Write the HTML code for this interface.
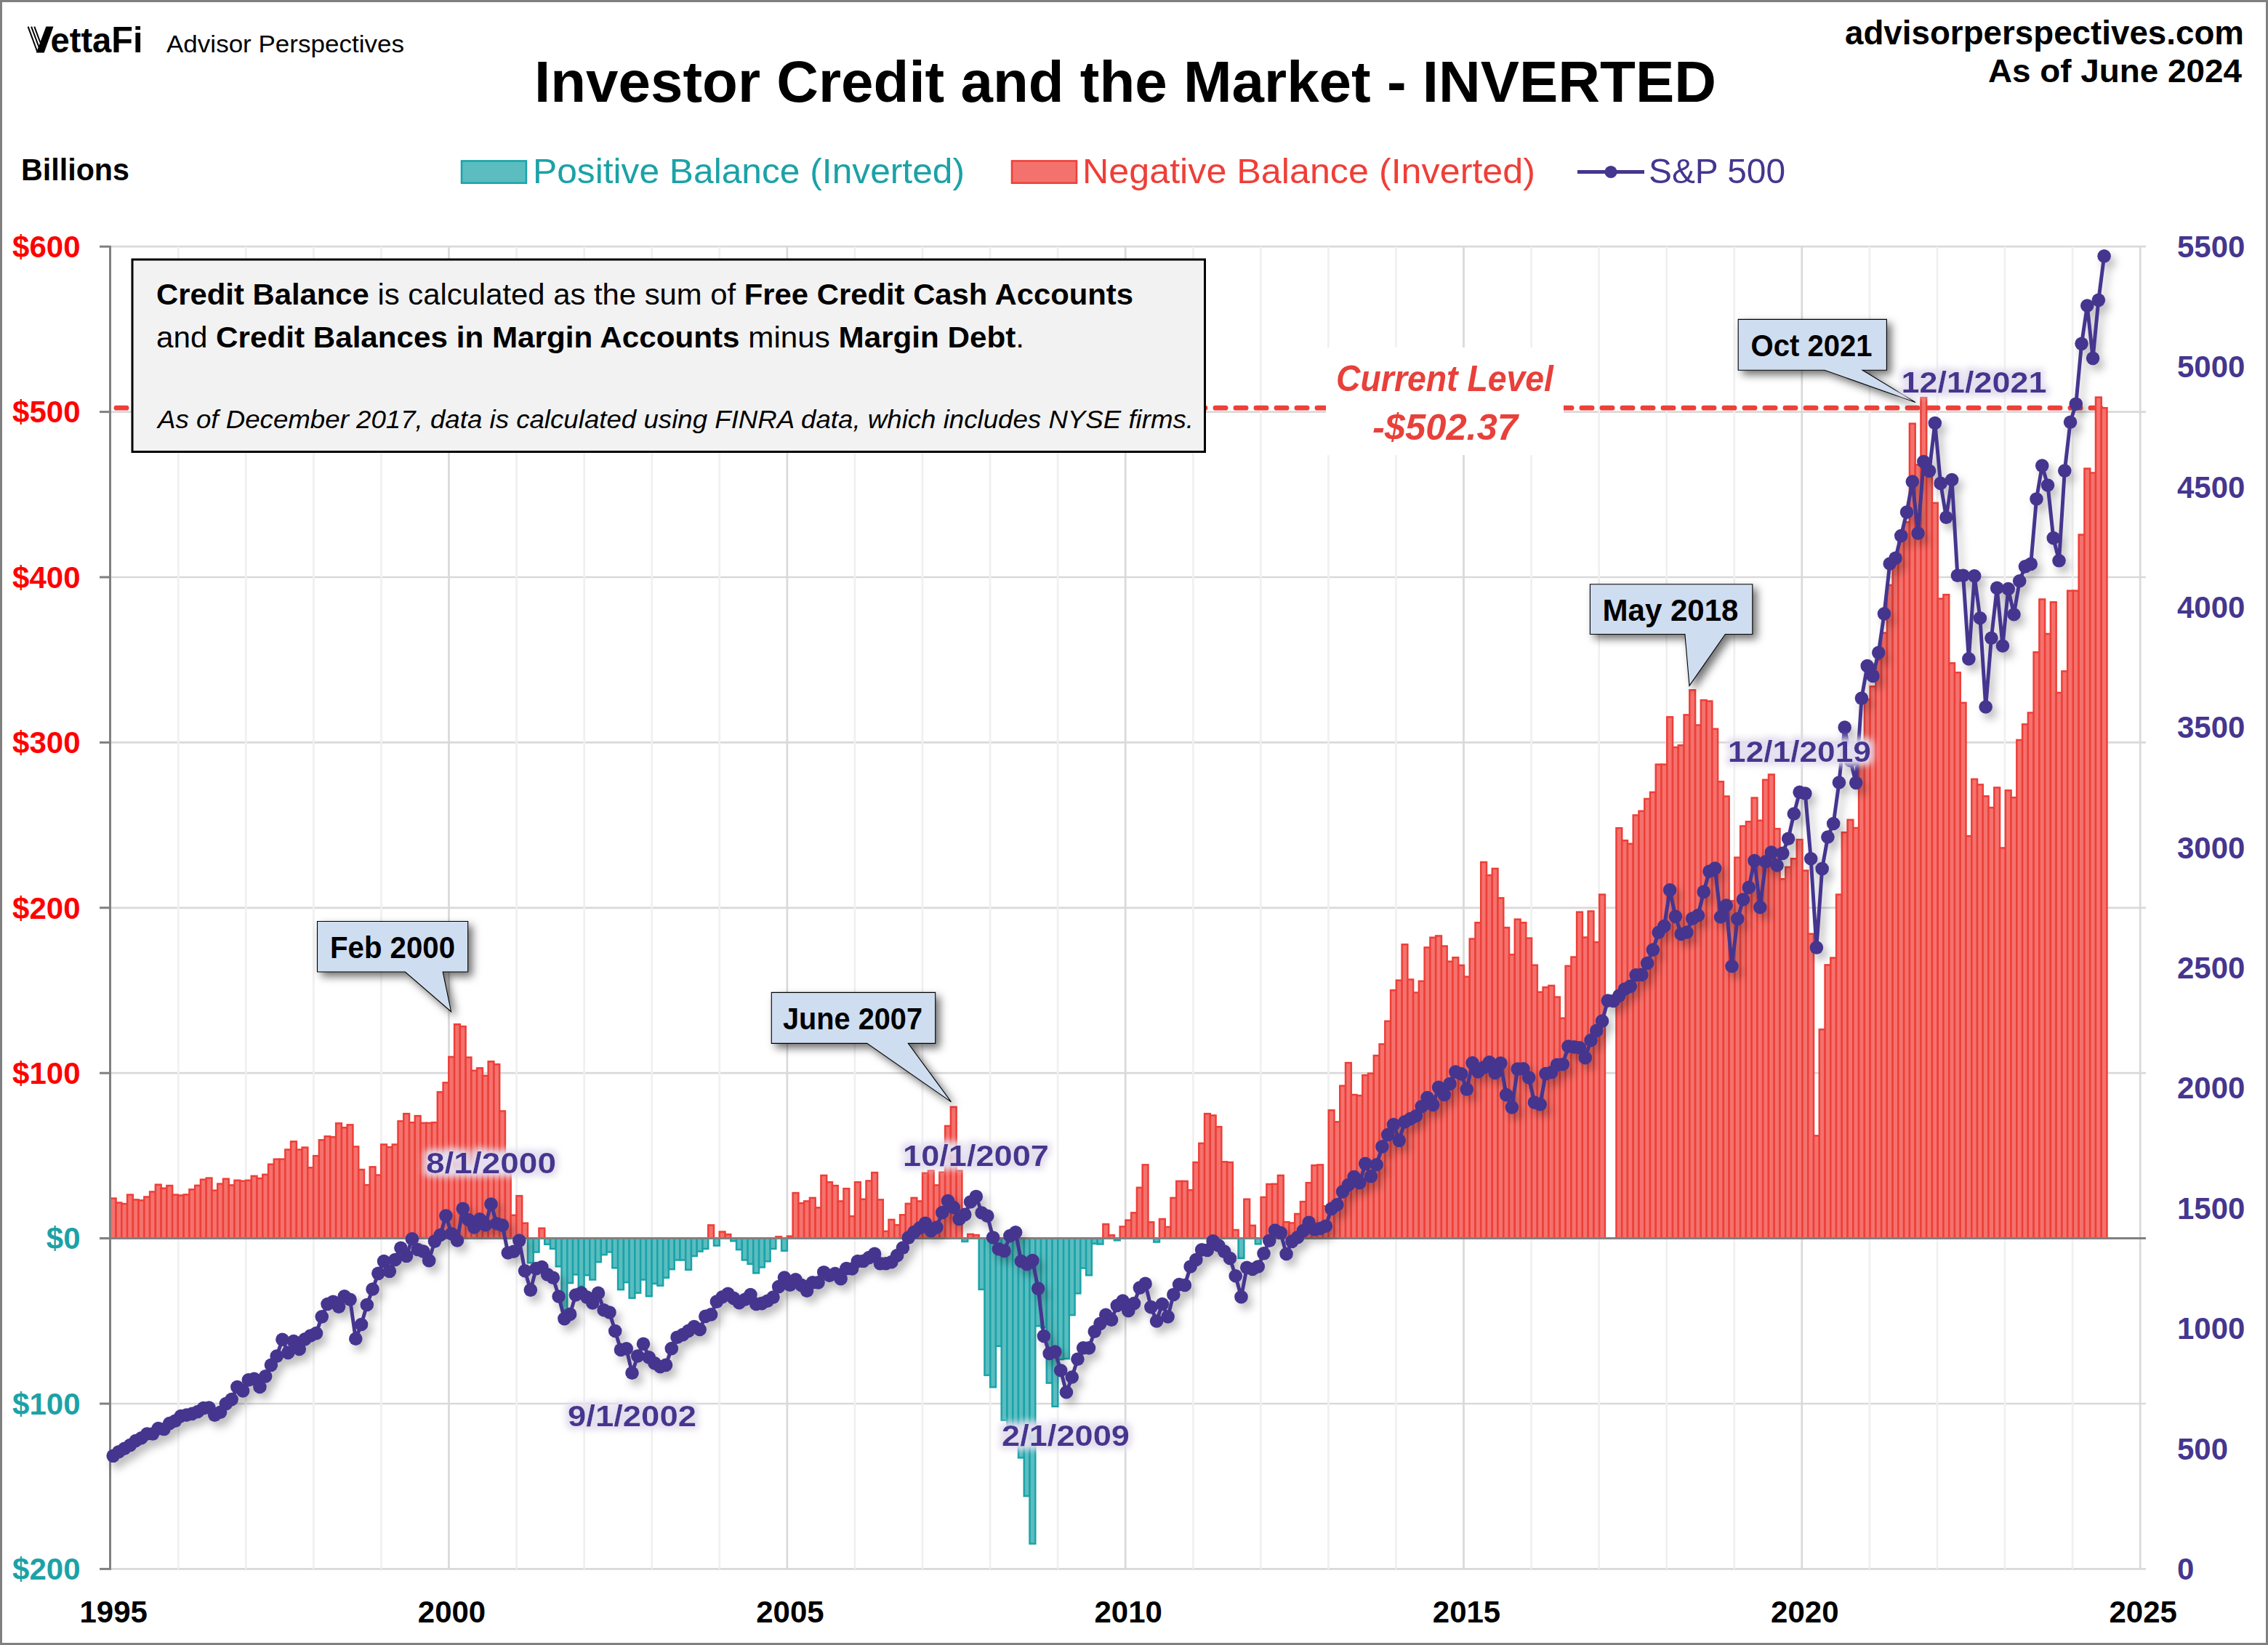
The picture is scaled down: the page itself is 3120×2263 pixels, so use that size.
<!DOCTYPE html><html><head><meta charset="utf-8"><style>html,body{margin:0;padding:0;background:#fff;}svg{display:block;}</style></head><body>
<svg width="3120" height="2263" viewBox="0 0 3120 2263" font-family='"Liberation Sans", sans-serif'>
<defs><filter id="lsh" x="-5%" y="-5%" width="110%" height="110%"><feGaussianBlur in="SourceAlpha" stdDeviation="6"/><feOffset dx="6" dy="8" result="b"/><feFlood flood-color="#000" flood-opacity="0.26"/><feComposite in2="b" operator="in"/><feMerge><feMergeNode/><feMergeNode in="SourceGraphic"/></feMerge></filter><filter id="csh" x="-20%" y="-20%" width="140%" height="140%"><feGaussianBlur in="SourceAlpha" stdDeviation="6"/><feOffset dx="6" dy="6" result="b"/><feFlood flood-color="#000" flood-opacity="0.55"/><feComposite in2="b" operator="in"/><feMerge><feMergeNode/><feMergeNode in="SourceGraphic"/></feMerge></filter><filter id="glow" x="-10%" y="-30%" width="120%" height="160%"><feMorphology in="SourceAlpha" operator="dilate" radius="5" result="d"/><feGaussianBlur in="d" stdDeviation="4.5" result="g"/><feFlood flood-color="#E4DEEE" flood-opacity="1"/><feComposite in2="g" operator="in"/><feMerge><feMergeNode/><feMergeNode in="SourceGraphic"/></feMerge></filter></defs>
<rect x="0" y="0" width="3120" height="2263" fill="#fff"/>
<line x1="151.8" y1="339.2" x2="2952.0" y2="339.2" stroke="#D9D9D9" stroke-width="2.7"/>
<line x1="151.8" y1="566.6" x2="2952.0" y2="566.6" stroke="#D9D9D9" stroke-width="2.7"/>
<line x1="151.8" y1="794.0" x2="2952.0" y2="794.0" stroke="#D9D9D9" stroke-width="2.7"/>
<line x1="151.8" y1="1021.4" x2="2952.0" y2="1021.4" stroke="#D9D9D9" stroke-width="2.7"/>
<line x1="151.8" y1="1248.8" x2="2952.0" y2="1248.8" stroke="#D9D9D9" stroke-width="2.7"/>
<line x1="151.8" y1="1476.2" x2="2952.0" y2="1476.2" stroke="#D9D9D9" stroke-width="2.7"/>
<line x1="151.8" y1="1931.0" x2="2952.0" y2="1931.0" stroke="#D9D9D9" stroke-width="2.7"/>
<line x1="151.8" y1="2158.4" x2="2952.0" y2="2158.4" stroke="#D9D9D9" stroke-width="2.7"/>
<line x1="245.3" y1="339.2" x2="245.3" y2="2158.4" stroke="#F0F0F0" stroke-width="2.7"/>
<line x1="338.3" y1="339.2" x2="338.3" y2="2158.4" stroke="#F0F0F0" stroke-width="2.7"/>
<line x1="431.4" y1="339.2" x2="431.4" y2="2158.4" stroke="#F0F0F0" stroke-width="2.7"/>
<line x1="524.5" y1="339.2" x2="524.5" y2="2158.4" stroke="#F0F0F0" stroke-width="2.7"/>
<line x1="617.5" y1="339.2" x2="617.5" y2="2158.4" stroke="#D9D9D9" stroke-width="2.7"/>
<line x1="710.6" y1="339.2" x2="710.6" y2="2158.4" stroke="#F0F0F0" stroke-width="2.7"/>
<line x1="803.7" y1="339.2" x2="803.7" y2="2158.4" stroke="#F0F0F0" stroke-width="2.7"/>
<line x1="896.7" y1="339.2" x2="896.7" y2="2158.4" stroke="#F0F0F0" stroke-width="2.7"/>
<line x1="989.8" y1="339.2" x2="989.8" y2="2158.4" stroke="#F0F0F0" stroke-width="2.7"/>
<line x1="1082.9" y1="339.2" x2="1082.9" y2="2158.4" stroke="#D9D9D9" stroke-width="2.7"/>
<line x1="1175.9" y1="339.2" x2="1175.9" y2="2158.4" stroke="#F0F0F0" stroke-width="2.7"/>
<line x1="1269.0" y1="339.2" x2="1269.0" y2="2158.4" stroke="#F0F0F0" stroke-width="2.7"/>
<line x1="1362.1" y1="339.2" x2="1362.1" y2="2158.4" stroke="#F0F0F0" stroke-width="2.7"/>
<line x1="1455.1" y1="339.2" x2="1455.1" y2="2158.4" stroke="#F0F0F0" stroke-width="2.7"/>
<line x1="1548.2" y1="339.2" x2="1548.2" y2="2158.4" stroke="#D9D9D9" stroke-width="2.7"/>
<line x1="1641.3" y1="339.2" x2="1641.3" y2="2158.4" stroke="#F0F0F0" stroke-width="2.7"/>
<line x1="1734.3" y1="339.2" x2="1734.3" y2="2158.4" stroke="#F0F0F0" stroke-width="2.7"/>
<line x1="1827.4" y1="339.2" x2="1827.4" y2="2158.4" stroke="#F0F0F0" stroke-width="2.7"/>
<line x1="1920.5" y1="339.2" x2="1920.5" y2="2158.4" stroke="#F0F0F0" stroke-width="2.7"/>
<line x1="2013.5" y1="339.2" x2="2013.5" y2="2158.4" stroke="#D9D9D9" stroke-width="2.7"/>
<line x1="2106.6" y1="339.2" x2="2106.6" y2="2158.4" stroke="#F0F0F0" stroke-width="2.7"/>
<line x1="2199.7" y1="339.2" x2="2199.7" y2="2158.4" stroke="#F0F0F0" stroke-width="2.7"/>
<line x1="2292.7" y1="339.2" x2="2292.7" y2="2158.4" stroke="#F0F0F0" stroke-width="2.7"/>
<line x1="2385.8" y1="339.2" x2="2385.8" y2="2158.4" stroke="#F0F0F0" stroke-width="2.7"/>
<line x1="2478.8" y1="339.2" x2="2478.8" y2="2158.4" stroke="#D9D9D9" stroke-width="2.7"/>
<line x1="2571.9" y1="339.2" x2="2571.9" y2="2158.4" stroke="#F0F0F0" stroke-width="2.7"/>
<line x1="2665.0" y1="339.2" x2="2665.0" y2="2158.4" stroke="#F0F0F0" stroke-width="2.7"/>
<line x1="2758.0" y1="339.2" x2="2758.0" y2="2158.4" stroke="#F0F0F0" stroke-width="2.7"/>
<line x1="2851.1" y1="339.2" x2="2851.1" y2="2158.4" stroke="#F0F0F0" stroke-width="2.7"/>
<line x1="2944.2" y1="339.2" x2="2944.2" y2="2158.4" stroke="#D9D9D9" stroke-width="2.7"/>
<line x1="159.9" y1="561.2" x2="2893.7" y2="561.2" stroke="#EE3F38" stroke-width="6.7" stroke-dasharray="14.2 13.8" stroke-linecap="round"/>
<g fill="#F4726D" stroke="#EE3F38" stroke-width="2.5"><rect x="151.80" y="1648.57" width="7.759" height="55.03"/><rect x="159.56" y="1654.48" width="7.759" height="49.12"/><rect x="167.32" y="1656.07" width="7.759" height="47.53"/><rect x="175.08" y="1643.57" width="7.759" height="60.03"/><rect x="182.84" y="1650.39" width="7.759" height="53.21"/><rect x="190.60" y="1651.30" width="7.759" height="52.30"/><rect x="198.35" y="1646.52" width="7.759" height="57.08"/><rect x="206.11" y="1639.47" width="7.759" height="64.13"/><rect x="213.87" y="1629.69" width="7.759" height="73.90"/><rect x="221.63" y="1634.70" width="7.759" height="68.90"/><rect x="229.39" y="1631.06" width="7.759" height="72.54"/><rect x="237.15" y="1643.57" width="7.759" height="60.03"/><rect x="244.91" y="1644.48" width="7.759" height="59.12"/><rect x="252.67" y="1643.34" width="7.759" height="60.26"/><rect x="260.43" y="1636.29" width="7.759" height="67.31"/><rect x="268.19" y="1630.83" width="7.759" height="72.77"/><rect x="275.94" y="1622.65" width="7.759" height="80.95"/><rect x="283.70" y="1620.60" width="7.759" height="83.00"/><rect x="291.46" y="1637.65" width="7.759" height="65.95"/><rect x="299.22" y="1628.56" width="7.759" height="75.04"/><rect x="306.98" y="1621.74" width="7.759" height="81.86"/><rect x="314.74" y="1630.38" width="7.759" height="73.22"/><rect x="322.50" y="1623.78" width="7.759" height="79.82"/><rect x="330.26" y="1624.69" width="7.759" height="78.91"/><rect x="338.02" y="1623.78" width="7.759" height="79.82"/><rect x="345.78" y="1617.87" width="7.759" height="85.73"/><rect x="353.53" y="1621.05" width="7.759" height="82.55"/><rect x="361.29" y="1615.82" width="7.759" height="87.78"/><rect x="369.05" y="1601.72" width="7.759" height="101.88"/><rect x="376.81" y="1594.68" width="7.759" height="108.92"/><rect x="384.57" y="1594.68" width="7.759" height="108.92"/><rect x="392.33" y="1581.49" width="7.759" height="122.11"/><rect x="400.09" y="1570.34" width="7.759" height="133.26"/><rect x="407.85" y="1581.49" width="7.759" height="122.11"/><rect x="415.61" y="1578.53" width="7.759" height="125.07"/><rect x="423.37" y="1606.27" width="7.759" height="97.33"/><rect x="431.12" y="1590.13" width="7.759" height="113.47"/><rect x="438.88" y="1568.30" width="7.759" height="135.30"/><rect x="446.64" y="1563.29" width="7.759" height="140.31"/><rect x="454.40" y="1564.20" width="7.759" height="139.40"/><rect x="462.16" y="1545.33" width="7.759" height="158.27"/><rect x="469.92" y="1551.24" width="7.759" height="152.36"/><rect x="477.68" y="1547.38" width="7.759" height="156.22"/><rect x="485.44" y="1577.39" width="7.759" height="126.21"/><rect x="493.20" y="1609.00" width="7.759" height="94.60"/><rect x="500.96" y="1630.15" width="7.759" height="73.45"/><rect x="508.71" y="1605.36" width="7.759" height="98.24"/><rect x="516.47" y="1616.51" width="7.759" height="87.09"/><rect x="524.23" y="1574.44" width="7.759" height="129.16"/><rect x="531.99" y="1578.08" width="7.759" height="125.52"/><rect x="539.75" y="1574.44" width="7.759" height="129.16"/><rect x="547.51" y="1542.37" width="7.759" height="161.23"/><rect x="555.27" y="1532.14" width="7.759" height="171.46"/><rect x="563.03" y="1544.19" width="7.759" height="159.41"/><rect x="570.79" y="1535.10" width="7.759" height="168.50"/><rect x="578.55" y="1544.87" width="7.759" height="158.73"/><rect x="586.30" y="1544.87" width="7.759" height="158.73"/><rect x="594.06" y="1544.19" width="7.759" height="159.41"/><rect x="601.82" y="1502.35" width="7.759" height="201.25"/><rect x="609.58" y="1489.39" width="7.759" height="214.21"/><rect x="617.34" y="1453.91" width="7.759" height="249.69"/><rect x="625.10" y="1409.12" width="7.759" height="294.48"/><rect x="632.86" y="1412.07" width="7.759" height="291.53"/><rect x="640.62" y="1454.60" width="7.759" height="249.00"/><rect x="648.38" y="1472.79" width="7.759" height="230.81"/><rect x="656.13" y="1469.38" width="7.759" height="234.22"/><rect x="663.89" y="1479.84" width="7.759" height="223.76"/><rect x="671.65" y="1460.28" width="7.759" height="243.32"/><rect x="679.41" y="1464.15" width="7.759" height="239.45"/><rect x="687.17" y="1528.50" width="7.759" height="175.10"/><rect x="694.93" y="1589.90" width="7.759" height="113.70"/><rect x="702.69" y="1671.76" width="7.759" height="31.84"/><rect x="710.45" y="1645.16" width="7.759" height="58.44"/><rect x="718.21" y="1682.68" width="7.759" height="20.92"/><rect x="741.48" y="1689.73" width="7.759" height="13.87"/><rect x="974.25" y="1685.41" width="7.759" height="18.19"/><rect x="989.77" y="1694.50" width="7.759" height="9.10"/><rect x="997.53" y="1698.14" width="7.759" height="5.46"/><rect x="1067.36" y="1701.33" width="7.759" height="2.27"/><rect x="1082.88" y="1700.64" width="7.759" height="2.96"/><rect x="1090.64" y="1641.06" width="7.759" height="62.54"/><rect x="1098.40" y="1655.16" width="7.759" height="48.44"/><rect x="1106.16" y="1652.43" width="7.759" height="51.16"/><rect x="1113.92" y="1647.89" width="7.759" height="55.71"/><rect x="1121.67" y="1661.30" width="7.759" height="42.30"/><rect x="1129.43" y="1616.96" width="7.759" height="86.64"/><rect x="1137.19" y="1626.28" width="7.759" height="77.32"/><rect x="1144.95" y="1631.06" width="7.759" height="72.54"/><rect x="1152.71" y="1652.43" width="7.759" height="51.16"/><rect x="1160.47" y="1635.15" width="7.759" height="68.45"/><rect x="1168.23" y="1673.13" width="7.759" height="30.47"/><rect x="1175.99" y="1626.28" width="7.759" height="77.32"/><rect x="1183.75" y="1649.71" width="7.759" height="53.89"/><rect x="1191.51" y="1624.46" width="7.759" height="79.14"/><rect x="1199.27" y="1613.09" width="7.759" height="90.51"/><rect x="1207.02" y="1650.39" width="7.759" height="53.21"/><rect x="1214.78" y="1693.82" width="7.759" height="9.78"/><rect x="1222.54" y="1677.90" width="7.759" height="25.70"/><rect x="1230.30" y="1685.18" width="7.759" height="18.42"/><rect x="1238.06" y="1671.31" width="7.759" height="32.29"/><rect x="1245.82" y="1655.85" width="7.759" height="47.75"/><rect x="1253.58" y="1647.89" width="7.759" height="55.71"/><rect x="1261.34" y="1652.43" width="7.759" height="51.16"/><rect x="1269.10" y="1613.78" width="7.759" height="89.82"/><rect x="1276.86" y="1610.37" width="7.759" height="93.23"/><rect x="1284.61" y="1630.38" width="7.759" height="73.22"/><rect x="1292.37" y="1612.64" width="7.759" height="90.96"/><rect x="1300.13" y="1548.97" width="7.759" height="154.63"/><rect x="1307.89" y="1522.82" width="7.759" height="180.78"/><rect x="1315.65" y="1610.37" width="7.759" height="93.23"/><rect x="1331.17" y="1697.91" width="7.759" height="5.68"/><rect x="1338.93" y="1699.05" width="7.759" height="4.55"/><rect x="1517.38" y="1684.04" width="7.759" height="19.56"/><rect x="1525.14" y="1699.28" width="7.759" height="4.32"/><rect x="1540.66" y="1687.45" width="7.759" height="16.15"/><rect x="1548.42" y="1678.59" width="7.759" height="25.01"/><rect x="1556.18" y="1668.35" width="7.759" height="35.25"/><rect x="1563.94" y="1633.79" width="7.759" height="69.81"/><rect x="1571.70" y="1602.41" width="7.759" height="101.19"/><rect x="1579.46" y="1681.31" width="7.759" height="22.29"/><rect x="1594.97" y="1676.99" width="7.759" height="26.61"/><rect x="1602.73" y="1687.91" width="7.759" height="15.69"/><rect x="1610.49" y="1647.89" width="7.759" height="55.71"/><rect x="1618.25" y="1624.92" width="7.759" height="78.68"/><rect x="1626.01" y="1624.92" width="7.759" height="78.68"/><rect x="1633.77" y="1637.20" width="7.759" height="66.40"/><rect x="1641.53" y="1599.00" width="7.759" height="104.60"/><rect x="1649.29" y="1572.84" width="7.759" height="130.76"/><rect x="1657.05" y="1532.14" width="7.759" height="171.46"/><rect x="1664.81" y="1534.41" width="7.759" height="169.19"/><rect x="1672.56" y="1550.11" width="7.759" height="153.49"/><rect x="1680.32" y="1598.31" width="7.759" height="105.29"/><rect x="1688.08" y="1599.00" width="7.759" height="104.60"/><rect x="1695.84" y="1692.00" width="7.759" height="11.60"/><rect x="1711.36" y="1649.71" width="7.759" height="53.89"/><rect x="1719.12" y="1685.86" width="7.759" height="17.74"/><rect x="1734.64" y="1646.98" width="7.759" height="56.62"/><rect x="1742.39" y="1629.01" width="7.759" height="74.59"/><rect x="1750.15" y="1628.79" width="7.759" height="74.81"/><rect x="1757.91" y="1616.96" width="7.759" height="86.64"/><rect x="1765.67" y="1681.09" width="7.759" height="22.51"/><rect x="1773.43" y="1682.45" width="7.759" height="21.15"/><rect x="1781.19" y="1669.94" width="7.759" height="33.66"/><rect x="1788.95" y="1653.12" width="7.759" height="50.48"/><rect x="1796.71" y="1627.19" width="7.759" height="76.41"/><rect x="1804.47" y="1603.09" width="7.759" height="100.51"/><rect x="1812.23" y="1602.41" width="7.759" height="101.19"/><rect x="1819.99" y="1659.26" width="7.759" height="44.34"/><rect x="1827.74" y="1527.36" width="7.759" height="176.24"/><rect x="1835.50" y="1543.28" width="7.759" height="160.32"/><rect x="1843.26" y="1493.71" width="7.759" height="209.89"/><rect x="1851.02" y="1462.10" width="7.759" height="241.50"/><rect x="1858.78" y="1505.99" width="7.759" height="197.61"/><rect x="1866.54" y="1507.13" width="7.759" height="196.47"/><rect x="1874.30" y="1479.16" width="7.759" height="224.44"/><rect x="1882.06" y="1476.65" width="7.759" height="226.95"/><rect x="1889.82" y="1452.10" width="7.759" height="251.50"/><rect x="1897.58" y="1436.40" width="7.759" height="267.19"/><rect x="1905.33" y="1404.80" width="7.759" height="298.80"/><rect x="1913.09" y="1362.27" width="7.759" height="341.33"/><rect x="1920.85" y="1348.63" width="7.759" height="354.97"/><rect x="1928.61" y="1299.28" width="7.759" height="404.32"/><rect x="1936.37" y="1347.49" width="7.759" height="356.11"/><rect x="1944.13" y="1365.46" width="7.759" height="338.14"/><rect x="1951.89" y="1349.77" width="7.759" height="353.83"/><rect x="1959.65" y="1303.38" width="7.759" height="400.22"/><rect x="1967.41" y="1289.73" width="7.759" height="413.87"/><rect x="1975.16" y="1287.46" width="7.759" height="416.14"/><rect x="1982.92" y="1301.56" width="7.759" height="402.04"/><rect x="1990.68" y="1322.70" width="7.759" height="380.89"/><rect x="1998.44" y="1317.25" width="7.759" height="386.35"/><rect x="2006.20" y="1327.94" width="7.759" height="375.66"/><rect x="2013.96" y="1343.63" width="7.759" height="359.97"/><rect x="2021.72" y="1291.55" width="7.759" height="412.05"/><rect x="2029.48" y="1269.27" width="7.759" height="434.33"/><rect x="2037.24" y="1186.04" width="7.759" height="517.56"/><rect x="2045.00" y="1204.00" width="7.759" height="499.60"/><rect x="2052.76" y="1194.91" width="7.759" height="508.69"/><rect x="2060.51" y="1235.38" width="7.759" height="468.22"/><rect x="2068.27" y="1276.09" width="7.759" height="427.51"/><rect x="2076.03" y="1313.15" width="7.759" height="390.45"/><rect x="2083.79" y="1264.72" width="7.759" height="438.88"/><rect x="2091.55" y="1269.27" width="7.759" height="434.33"/><rect x="2099.31" y="1290.64" width="7.759" height="412.96"/><rect x="2107.07" y="1327.71" width="7.759" height="375.89"/><rect x="2114.83" y="1364.77" width="7.759" height="338.83"/><rect x="2122.59" y="1358.18" width="7.759" height="345.42"/><rect x="2130.35" y="1355.91" width="7.759" height="347.69"/><rect x="2138.10" y="1371.60" width="7.759" height="332.00"/><rect x="2145.86" y="1400.70" width="7.759" height="302.90"/><rect x="2153.62" y="1328.84" width="7.759" height="374.76"/><rect x="2161.38" y="1316.57" width="7.759" height="387.03"/><rect x="2169.14" y="1254.71" width="7.759" height="448.89"/><rect x="2176.90" y="1289.50" width="7.759" height="414.10"/><rect x="2184.66" y="1253.58" width="7.759" height="450.02"/><rect x="2192.42" y="1296.10" width="7.759" height="407.50"/><rect x="2200.18" y="1230.61" width="7.759" height="472.99"/><rect x="2223.45" y="1139.19" width="7.759" height="564.41"/><rect x="2231.21" y="1156.25" width="7.759" height="547.35"/><rect x="2238.97" y="1160.80" width="7.759" height="542.80"/><rect x="2246.73" y="1121.46" width="7.759" height="582.14"/><rect x="2254.49" y="1115.77" width="7.759" height="587.83"/><rect x="2262.25" y="1098.94" width="7.759" height="604.66"/><rect x="2270.01" y="1089.85" width="7.759" height="613.75"/><rect x="2277.77" y="1051.64" width="7.759" height="651.96"/><rect x="2285.53" y="1051.64" width="7.759" height="651.96"/><rect x="2293.28" y="986.38" width="7.759" height="717.22"/><rect x="2301.04" y="1027.99" width="7.759" height="675.61"/><rect x="2308.80" y="1025.27" width="7.759" height="678.33"/><rect x="2316.56" y="983.42" width="7.759" height="720.18"/><rect x="2324.32" y="949.31" width="7.759" height="754.29"/><rect x="2332.08" y="997.52" width="7.759" height="706.08"/><rect x="2339.84" y="963.19" width="7.759" height="740.41"/><rect x="2347.60" y="964.55" width="7.759" height="739.05"/><rect x="2355.36" y="1002.75" width="7.759" height="700.85"/><rect x="2363.12" y="1075.29" width="7.759" height="628.31"/><rect x="2370.87" y="1095.53" width="7.759" height="608.07"/><rect x="2378.63" y="1239.48" width="7.759" height="464.12"/><rect x="2386.39" y="1179.67" width="7.759" height="523.93"/><rect x="2394.15" y="1136.46" width="7.759" height="567.14"/><rect x="2401.91" y="1130.32" width="7.759" height="573.28"/><rect x="2409.67" y="1097.58" width="7.759" height="606.02"/><rect x="2417.43" y="1128.73" width="7.759" height="574.87"/><rect x="2425.19" y="1072.79" width="7.759" height="630.81"/><rect x="2432.95" y="1065.52" width="7.759" height="638.08"/><rect x="2440.71" y="1140.10" width="7.759" height="563.50"/><rect x="2448.46" y="1209.23" width="7.759" height="494.37"/><rect x="2456.22" y="1192.86" width="7.759" height="510.74"/><rect x="2463.98" y="1181.26" width="7.759" height="522.34"/><rect x="2471.74" y="1155.11" width="7.759" height="548.49"/><rect x="2479.50" y="1197.63" width="7.759" height="505.97"/><rect x="2487.26" y="1284.73" width="7.759" height="418.87"/><rect x="2495.02" y="1562.38" width="7.759" height="141.22"/><rect x="2502.78" y="1416.17" width="7.759" height="287.43"/><rect x="2510.54" y="1327.48" width="7.759" height="376.12"/><rect x="2518.30" y="1317.70" width="7.759" height="385.90"/><rect x="2526.05" y="1230.61" width="7.759" height="472.99"/><rect x="2533.81" y="1145.11" width="7.759" height="558.49"/><rect x="2541.57" y="1127.82" width="7.759" height="575.78"/><rect x="2549.33" y="1138.97" width="7.759" height="564.63"/><rect x="2557.09" y="1027.09" width="7.759" height="676.51"/><rect x="2564.85" y="962.28" width="7.759" height="741.32"/><rect x="2572.61" y="944.31" width="7.759" height="759.29"/><rect x="2580.37" y="907.70" width="7.759" height="795.90"/><rect x="2588.13" y="870.63" width="7.759" height="832.97"/><rect x="2595.89" y="804.92" width="7.759" height="898.68"/><rect x="2603.64" y="765.35" width="7.759" height="938.25"/><rect x="2611.40" y="737.15" width="7.759" height="966.45"/><rect x="2619.16" y="718.28" width="7.759" height="985.32"/><rect x="2626.92" y="582.75" width="7.759" height="1120.85"/><rect x="2634.68" y="639.37" width="7.759" height="1064.23"/><rect x="2642.44" y="547.04" width="7.759" height="1156.56"/><rect x="2650.20" y="646.64" width="7.759" height="1056.96"/><rect x="2657.96" y="691.90" width="7.759" height="1011.70"/><rect x="2665.72" y="823.56" width="7.759" height="880.04"/><rect x="2673.48" y="818.10" width="7.759" height="885.50"/><rect x="2681.23" y="912.25" width="7.759" height="791.35"/><rect x="2688.99" y="925.21" width="7.759" height="778.39"/><rect x="2696.75" y="966.82" width="7.759" height="736.78"/><rect x="2704.51" y="1150.11" width="7.759" height="553.49"/><rect x="2712.27" y="1071.88" width="7.759" height="631.72"/><rect x="2720.03" y="1079.39" width="7.759" height="624.21"/><rect x="2727.79" y="1095.30" width="7.759" height="608.30"/><rect x="2735.55" y="1111.00" width="7.759" height="592.60"/><rect x="2743.31" y="1083.48" width="7.759" height="620.12"/><rect x="2751.07" y="1166.48" width="7.759" height="537.12"/><rect x="2758.82" y="1087.35" width="7.759" height="616.25"/><rect x="2766.58" y="1097.12" width="7.759" height="606.48"/><rect x="2774.34" y="1017.99" width="7.759" height="685.61"/><rect x="2782.10" y="996.39" width="7.759" height="707.21"/><rect x="2789.86" y="980.47" width="7.759" height="723.13"/><rect x="2797.62" y="897.24" width="7.759" height="806.36"/><rect x="2805.38" y="824.47" width="7.759" height="879.13"/><rect x="2813.14" y="872.00" width="7.759" height="831.60"/><rect x="2820.90" y="828.34" width="7.759" height="875.26"/><rect x="2828.66" y="952.95" width="7.759" height="750.65"/><rect x="2836.41" y="923.39" width="7.759" height="780.21"/><rect x="2844.17" y="812.65" width="7.759" height="890.95"/><rect x="2851.93" y="812.65" width="7.759" height="890.95"/><rect x="2859.69" y="735.56" width="7.759" height="968.04"/><rect x="2867.45" y="644.60" width="7.759" height="1059.00"/><rect x="2875.21" y="650.51" width="7.759" height="1053.09"/><rect x="2882.97" y="546.59" width="7.759" height="1157.01"/><rect x="2890.73" y="561.21" width="7.759" height="1142.39"/></g>
<g fill="#5BBDC0" stroke="#1AA3A8" stroke-width="2.5"><rect x="725.97" y="1703.60" width="7.759" height="33.66"/><rect x="733.73" y="1703.60" width="7.759" height="18.87"/><rect x="749.24" y="1703.60" width="7.759" height="8.19"/><rect x="757.00" y="1703.60" width="7.759" height="14.33"/><rect x="764.76" y="1703.60" width="7.759" height="38.66"/><rect x="772.52" y="1703.60" width="7.759" height="98.46"/><rect x="780.28" y="1703.60" width="7.759" height="61.40"/><rect x="788.04" y="1703.60" width="7.759" height="49.80"/><rect x="795.80" y="1703.60" width="7.759" height="65.95"/><rect x="803.56" y="1703.60" width="7.759" height="50.71"/><rect x="811.32" y="1703.60" width="7.759" height="56.85"/><rect x="819.07" y="1703.60" width="7.759" height="32.52"/><rect x="826.83" y="1703.60" width="7.759" height="22.51"/><rect x="834.59" y="1703.60" width="7.759" height="18.87"/><rect x="842.35" y="1703.60" width="7.759" height="40.70"/><rect x="850.11" y="1703.60" width="7.759" height="70.49"/><rect x="857.87" y="1703.60" width="7.759" height="60.49"/><rect x="865.63" y="1703.60" width="7.759" height="82.09"/><rect x="873.39" y="1703.60" width="7.759" height="75.04"/><rect x="881.15" y="1703.60" width="7.759" height="56.85"/><rect x="888.90" y="1703.60" width="7.759" height="79.59"/><rect x="896.66" y="1703.60" width="7.759" height="62.31"/><rect x="904.42" y="1703.60" width="7.759" height="65.04"/><rect x="912.18" y="1703.60" width="7.759" height="54.12"/><rect x="919.94" y="1703.60" width="7.759" height="42.52"/><rect x="927.70" y="1703.60" width="7.759" height="29.79"/><rect x="935.46" y="1703.60" width="7.759" height="29.79"/><rect x="943.22" y="1703.60" width="7.759" height="43.21"/><rect x="950.98" y="1703.60" width="7.759" height="24.33"/><rect x="958.74" y="1703.60" width="7.759" height="17.96"/><rect x="966.50" y="1703.60" width="7.759" height="14.33"/><rect x="982.01" y="1703.60" width="7.759" height="10.01"/><rect x="1005.29" y="1703.60" width="7.759" height="3.64"/><rect x="1013.05" y="1703.60" width="7.759" height="15.46"/><rect x="1020.81" y="1703.60" width="7.759" height="29.79"/><rect x="1028.57" y="1703.60" width="7.759" height="35.25"/><rect x="1036.33" y="1703.60" width="7.759" height="47.75"/><rect x="1044.09" y="1703.60" width="7.759" height="39.80"/><rect x="1051.84" y="1703.60" width="7.759" height="31.61"/><rect x="1059.60" y="1703.60" width="7.759" height="14.33"/><rect x="1075.12" y="1703.60" width="7.759" height="17.06"/><rect x="1323.41" y="1703.60" width="7.759" height="4.32"/><rect x="1346.69" y="1703.60" width="7.759" height="70.27"/><rect x="1354.44" y="1703.60" width="7.759" height="188.29"/><rect x="1362.20" y="1703.60" width="7.759" height="204.66"/><rect x="1369.96" y="1703.60" width="7.759" height="148.26"/><rect x="1377.72" y="1703.60" width="7.759" height="250.14"/><rect x="1385.48" y="1703.60" width="7.759" height="256.96"/><rect x="1393.24" y="1703.60" width="7.759" height="266.06"/><rect x="1401.00" y="1703.60" width="7.759" height="301.76"/><rect x="1408.76" y="1703.60" width="7.759" height="354.52"/><rect x="1416.52" y="1703.60" width="7.759" height="420.01"/><rect x="1424.28" y="1703.60" width="7.759" height="120.52"/><rect x="1432.04" y="1703.60" width="7.759" height="122.80"/><rect x="1439.79" y="1703.60" width="7.759" height="198.97"/><rect x="1447.55" y="1703.60" width="7.759" height="231.27"/><rect x="1455.31" y="1703.60" width="7.759" height="166.46"/><rect x="1463.07" y="1703.60" width="7.759" height="165.55"/><rect x="1470.83" y="1703.60" width="7.759" height="105.51"/><rect x="1478.59" y="1703.60" width="7.759" height="75.72"/><rect x="1486.35" y="1703.60" width="7.759" height="40.93"/><rect x="1494.11" y="1703.60" width="7.759" height="50.71"/><rect x="1501.87" y="1703.60" width="7.759" height="7.28"/><rect x="1509.62" y="1703.60" width="7.759" height="7.96"/><rect x="1532.90" y="1703.60" width="7.759" height="2.73"/><rect x="1587.21" y="1703.60" width="7.759" height="5.00"/><rect x="1703.60" y="1703.60" width="7.759" height="27.29"/><rect x="1726.88" y="1703.60" width="7.759" height="7.73"/></g>
<line x1="137" y1="1703.6" x2="2952.0" y2="1703.6" stroke="#808080" stroke-width="3"/>
<line x1="151.5" y1="337.9" x2="151.5" y2="2159.7000000000003" stroke="#808080" stroke-width="3"/>
<line x1="137" y1="339.2" x2="151.5" y2="339.2" stroke="#808080" stroke-width="3"/>
<line x1="137" y1="566.6" x2="151.5" y2="566.6" stroke="#808080" stroke-width="3"/>
<line x1="137" y1="794.0" x2="151.5" y2="794.0" stroke="#808080" stroke-width="3"/>
<line x1="137" y1="1021.4" x2="151.5" y2="1021.4" stroke="#808080" stroke-width="3"/>
<line x1="137" y1="1248.8" x2="151.5" y2="1248.8" stroke="#808080" stroke-width="3"/>
<line x1="137" y1="1476.2" x2="151.5" y2="1476.2" stroke="#808080" stroke-width="3"/>
<line x1="137" y1="1703.6" x2="151.5" y2="1703.6" stroke="#808080" stroke-width="3"/>
<line x1="137" y1="1931.0" x2="151.5" y2="1931.0" stroke="#808080" stroke-width="3"/>
<line x1="137" y1="2158.4" x2="151.5" y2="2158.4" stroke="#808080" stroke-width="3"/>
<g filter="url(#lsh)"><polyline points="155.68,2002.81 163.44,1997.20 171.20,1992.79 178.96,1988.16 186.72,1981.98 194.47,1978.22 202.23,1972.50 209.99,1972.56 217.75,1965.11 225.51,1966.07 233.27,1958.17 241.03,1954.68 248.79,1948.04 256.55,1946.58 264.31,1944.90 272.06,1942.03 279.82,1937.09 287.58,1936.59 295.34,1946.74 303.10,1942.75 310.86,1931.07 318.62,1925.13 326.38,1908.02 334.14,1913.40 341.90,1898.38 349.65,1896.84 357.41,1907.98 365.17,1893.36 372.93,1877.83 380.69,1865.64 388.45,1842.76 396.21,1860.90 403.97,1845.09 411.73,1855.89 419.49,1842.40 427.24,1837.43 435.00,1834.17 442.76,1811.33 450.52,1794.00 458.28,1790.69 466.04,1797.61 473.80,1783.38 481.56,1787.74 489.32,1841.78 497.08,1822.02 504.83,1795.01 512.59,1773.53 520.35,1751.83 528.11,1735.16 535.87,1748.82 543.63,1732.93 551.39,1716.79 559.15,1727.82 566.91,1704.38 574.67,1718.93 582.42,1721.67 590.18,1734.14 597.94,1707.61 605.70,1699.02 613.46,1672.45 621.22,1697.18 628.98,1706.46 636.74,1662.74 644.50,1678.01 652.26,1688.54 660.01,1677.29 667.77,1685.15 675.53,1656.43 683.29,1683.27 691.05,1685.63 698.81,1723.48 706.57,1721.72 714.33,1706.59 722.09,1748.29 729.85,1774.62 737.60,1745.14 745.36,1743.04 753.12,1753.42 760.88,1757.79 768.64,1783.47 776.40,1814.11 784.16,1807.88 791.92,1781.53 799.68,1778.67 807.44,1784.59 815.19,1792.35 822.95,1778.90 830.71,1802.21 838.47,1805.44 846.23,1831.02 853.99,1856.88 861.75,1855.41 869.51,1888.75 877.27,1865.43 885.03,1848.72 892.78,1867.40 900.54,1875.38 908.30,1880.19 916.06,1877.86 923.82,1855.13 931.58,1839.69 939.34,1836.08 947.10,1830.85 954.86,1825.00 962.62,1828.98 970.37,1810.88 978.13,1808.40 985.89,1790.63 993.65,1784.28 1001.41,1779.71 1009.17,1785.91 1016.93,1792.16 1024.69,1787.74 1032.45,1781.07 1040.21,1794.01 1047.96,1793.17 1055.72,1789.75 1063.48,1784.59 1071.24,1770.16 1079.00,1757.56 1086.76,1767.69 1094.52,1760.31 1102.28,1767.92 1110.04,1775.77 1117.80,1764.31 1125.55,1764.37 1133.31,1750.19 1141.07,1754.78 1148.83,1751.97 1156.59,1759.18 1164.35,1745.13 1172.11,1745.53 1179.87,1735.01 1187.63,1734.82 1195.39,1730.12 1203.14,1724.92 1210.90,1738.32 1218.66,1738.28 1226.42,1736.14 1234.18,1727.16 1241.94,1716.57 1249.70,1702.65 1257.46,1695.14 1265.22,1689.30 1272.98,1682.70 1280.73,1693.09 1288.49,1688.45 1296.25,1668.11 1304.01,1652.15 1311.77,1661.17 1319.53,1677.07 1327.29,1670.88 1335.05,1653.43 1342.81,1645.94 1350.57,1668.51 1358.32,1672.74 1366.08,1702.44 1373.84,1718.29 1381.60,1720.92 1389.36,1700.12 1397.12,1695.22 1404.88,1735.04 1412.64,1739.21 1420.40,1734.10 1428.16,1772.63 1435.91,1837.99 1443.67,1861.97 1451.43,1859.65 1459.19,1885.24 1466.95,1915.27 1474.71,1894.50 1482.47,1869.72 1490.23,1854.39 1497.99,1854.33 1505.75,1831.79 1513.50,1820.83 1521.26,1808.77 1529.02,1815.68 1536.78,1796.02 1544.54,1789.58 1552.30,1803.22 1560.06,1793.09 1567.82,1771.61 1575.58,1765.90 1583.34,1798.08 1591.09,1817.49 1598.85,1794.05 1606.61,1811.33 1614.37,1780.95 1622.13,1767.04 1629.89,1767.93 1637.65,1742.44 1645.41,1733.02 1653.17,1719.42 1660.93,1719.88 1668.68,1707.39 1676.44,1713.48 1684.20,1721.60 1691.96,1730.98 1699.72,1755.25 1707.48,1784.18 1715.24,1743.87 1723.00,1745.97 1730.76,1742.45 1738.52,1724.32 1746.27,1706.70 1754.03,1692.55 1761.79,1696.04 1769.55,1725.01 1777.31,1707.87 1785.07,1702.19 1792.83,1693.17 1800.59,1681.90 1808.35,1691.33 1816.11,1690.00 1823.86,1686.69 1831.62,1662.90 1839.38,1657.42 1847.14,1639.39 1854.90,1630.00 1862.66,1619.03 1870.42,1627.12 1878.18,1600.84 1885.94,1618.30 1893.70,1602.23 1901.45,1577.42 1909.21,1561.13 1916.97,1547.05 1924.73,1568.81 1932.49,1543.39 1940.25,1539.12 1948.01,1535.28 1955.77,1522.18 1963.53,1510.05 1971.29,1519.83 1979.04,1495.79 1986.80,1506.07 1994.56,1490.93 2002.32,1474.55 2010.08,1477.42 2017.84,1498.56 2025.60,1462.34 2033.36,1474.45 2041.12,1468.62 2048.88,1461.38 2056.63,1476.03 2064.39,1462.55 2072.15,1506.10 2079.91,1523.35 2087.67,1470.65 2095.43,1470.30 2103.19,1482.37 2110.95,1516.67 2118.71,1519.31 2126.47,1477.14 2134.22,1475.30 2141.98,1464.83 2149.74,1464.20 2157.50,1439.48 2165.26,1440.36 2173.02,1441.24 2180.78,1455.18 2188.54,1431.14 2196.30,1417.91 2204.06,1404.66 2211.81,1376.63 2219.57,1376.93 2227.33,1369.83 2235.09,1360.70 2242.85,1356.86 2250.61,1341.35 2258.37,1340.90 2266.13,1325.12 2273.89,1306.63 2281.65,1282.71 2289.40,1274.10 2297.16,1224.42 2304.92,1260.80 2312.68,1284.93 2320.44,1282.56 2328.20,1263.63 2335.96,1259.30 2343.72,1226.91 2351.48,1198.72 2359.24,1194.60 2366.99,1261.49 2374.75,1245.47 2382.51,1329.26 2390.27,1264.02 2398.03,1237.43 2405.79,1220.92 2413.55,1184.07 2421.31,1248.16 2429.07,1185.41 2436.83,1172.64 2444.58,1190.47 2452.34,1173.84 2460.10,1153.73 2467.86,1119.52 2475.62,1089.82 2483.38,1091.56 2491.14,1181.29 2498.90,1303.55 2506.66,1195.11 2514.42,1151.49 2522.17,1132.98 2529.93,1076.48 2537.69,1000.67 2545.45,1046.09 2553.21,1076.86 2560.97,960.55 2568.73,916.08 2576.49,929.92 2584.25,897.86 2592.01,844.37 2599.76,775.48 2607.52,767.89 2615.28,737.00 2623.04,704.67 2630.80,662.52 2638.56,733.68 2646.32,635.17 2654.08,647.86 2661.84,581.99 2669.60,664.88 2677.35,711.72 2685.11,659.97 2692.87,791.76 2700.63,791.69 2708.39,906.39 2716.15,792.31 2723.91,850.28 2731.67,972.46 2739.43,877.74 2747.19,808.90 2754.94,888.49 2762.70,810.06 2770.46,845.27 2778.22,799.25 2785.98,779.34 2793.74,775.92 2801.50,686.44 2809.26,640.60 2817.02,667.49 2824.78,740.13 2832.53,771.30 2840.29,647.60 2848.05,580.78 2855.81,555.70 2863.57,472.81 2871.33,420.52 2879.09,492.85 2886.85,412.86 2894.61,352.35" fill="none" stroke="#45368F" stroke-width="5" stroke-linejoin="round"/><g fill="#45368F"><circle cx="155.68" cy="2002.81" r="9.3"/><circle cx="163.44" cy="1997.20" r="9.3"/><circle cx="171.20" cy="1992.79" r="9.3"/><circle cx="178.96" cy="1988.16" r="9.3"/><circle cx="186.72" cy="1981.98" r="9.3"/><circle cx="194.47" cy="1978.22" r="9.3"/><circle cx="202.23" cy="1972.50" r="9.3"/><circle cx="209.99" cy="1972.56" r="9.3"/><circle cx="217.75" cy="1965.11" r="9.3"/><circle cx="225.51" cy="1966.07" r="9.3"/><circle cx="233.27" cy="1958.17" r="9.3"/><circle cx="241.03" cy="1954.68" r="9.3"/><circle cx="248.79" cy="1948.04" r="9.3"/><circle cx="256.55" cy="1946.58" r="9.3"/><circle cx="264.31" cy="1944.90" r="9.3"/><circle cx="272.06" cy="1942.03" r="9.3"/><circle cx="279.82" cy="1937.09" r="9.3"/><circle cx="287.58" cy="1936.59" r="9.3"/><circle cx="295.34" cy="1946.74" r="9.3"/><circle cx="303.10" cy="1942.75" r="9.3"/><circle cx="310.86" cy="1931.07" r="9.3"/><circle cx="318.62" cy="1925.13" r="9.3"/><circle cx="326.38" cy="1908.02" r="9.3"/><circle cx="334.14" cy="1913.40" r="9.3"/><circle cx="341.90" cy="1898.38" r="9.3"/><circle cx="349.65" cy="1896.84" r="9.3"/><circle cx="357.41" cy="1907.98" r="9.3"/><circle cx="365.17" cy="1893.36" r="9.3"/><circle cx="372.93" cy="1877.83" r="9.3"/><circle cx="380.69" cy="1865.64" r="9.3"/><circle cx="388.45" cy="1842.76" r="9.3"/><circle cx="396.21" cy="1860.90" r="9.3"/><circle cx="403.97" cy="1845.09" r="9.3"/><circle cx="411.73" cy="1855.89" r="9.3"/><circle cx="419.49" cy="1842.40" r="9.3"/><circle cx="427.24" cy="1837.43" r="9.3"/><circle cx="435.00" cy="1834.17" r="9.3"/><circle cx="442.76" cy="1811.33" r="9.3"/><circle cx="450.52" cy="1794.00" r="9.3"/><circle cx="458.28" cy="1790.69" r="9.3"/><circle cx="466.04" cy="1797.61" r="9.3"/><circle cx="473.80" cy="1783.38" r="9.3"/><circle cx="481.56" cy="1787.74" r="9.3"/><circle cx="489.32" cy="1841.78" r="9.3"/><circle cx="497.08" cy="1822.02" r="9.3"/><circle cx="504.83" cy="1795.01" r="9.3"/><circle cx="512.59" cy="1773.53" r="9.3"/><circle cx="520.35" cy="1751.83" r="9.3"/><circle cx="528.11" cy="1735.16" r="9.3"/><circle cx="535.87" cy="1748.82" r="9.3"/><circle cx="543.63" cy="1732.93" r="9.3"/><circle cx="551.39" cy="1716.79" r="9.3"/><circle cx="559.15" cy="1727.82" r="9.3"/><circle cx="566.91" cy="1704.38" r="9.3"/><circle cx="574.67" cy="1718.93" r="9.3"/><circle cx="582.42" cy="1721.67" r="9.3"/><circle cx="590.18" cy="1734.14" r="9.3"/><circle cx="597.94" cy="1707.61" r="9.3"/><circle cx="605.70" cy="1699.02" r="9.3"/><circle cx="613.46" cy="1672.45" r="9.3"/><circle cx="621.22" cy="1697.18" r="9.3"/><circle cx="628.98" cy="1706.46" r="9.3"/><circle cx="636.74" cy="1662.74" r="9.3"/><circle cx="644.50" cy="1678.01" r="9.3"/><circle cx="652.26" cy="1688.54" r="9.3"/><circle cx="660.01" cy="1677.29" r="9.3"/><circle cx="667.77" cy="1685.15" r="9.3"/><circle cx="675.53" cy="1656.43" r="9.3"/><circle cx="683.29" cy="1683.27" r="9.3"/><circle cx="691.05" cy="1685.63" r="9.3"/><circle cx="698.81" cy="1723.48" r="9.3"/><circle cx="706.57" cy="1721.72" r="9.3"/><circle cx="714.33" cy="1706.59" r="9.3"/><circle cx="722.09" cy="1748.29" r="9.3"/><circle cx="729.85" cy="1774.62" r="9.3"/><circle cx="737.60" cy="1745.14" r="9.3"/><circle cx="745.36" cy="1743.04" r="9.3"/><circle cx="753.12" cy="1753.42" r="9.3"/><circle cx="760.88" cy="1757.79" r="9.3"/><circle cx="768.64" cy="1783.47" r="9.3"/><circle cx="776.40" cy="1814.11" r="9.3"/><circle cx="784.16" cy="1807.88" r="9.3"/><circle cx="791.92" cy="1781.53" r="9.3"/><circle cx="799.68" cy="1778.67" r="9.3"/><circle cx="807.44" cy="1784.59" r="9.3"/><circle cx="815.19" cy="1792.35" r="9.3"/><circle cx="822.95" cy="1778.90" r="9.3"/><circle cx="830.71" cy="1802.21" r="9.3"/><circle cx="838.47" cy="1805.44" r="9.3"/><circle cx="846.23" cy="1831.02" r="9.3"/><circle cx="853.99" cy="1856.88" r="9.3"/><circle cx="861.75" cy="1855.41" r="9.3"/><circle cx="869.51" cy="1888.75" r="9.3"/><circle cx="877.27" cy="1865.43" r="9.3"/><circle cx="885.03" cy="1848.72" r="9.3"/><circle cx="892.78" cy="1867.40" r="9.3"/><circle cx="900.54" cy="1875.38" r="9.3"/><circle cx="908.30" cy="1880.19" r="9.3"/><circle cx="916.06" cy="1877.86" r="9.3"/><circle cx="923.82" cy="1855.13" r="9.3"/><circle cx="931.58" cy="1839.69" r="9.3"/><circle cx="939.34" cy="1836.08" r="9.3"/><circle cx="947.10" cy="1830.85" r="9.3"/><circle cx="954.86" cy="1825.00" r="9.3"/><circle cx="962.62" cy="1828.98" r="9.3"/><circle cx="970.37" cy="1810.88" r="9.3"/><circle cx="978.13" cy="1808.40" r="9.3"/><circle cx="985.89" cy="1790.63" r="9.3"/><circle cx="993.65" cy="1784.28" r="9.3"/><circle cx="1001.41" cy="1779.71" r="9.3"/><circle cx="1009.17" cy="1785.91" r="9.3"/><circle cx="1016.93" cy="1792.16" r="9.3"/><circle cx="1024.69" cy="1787.74" r="9.3"/><circle cx="1032.45" cy="1781.07" r="9.3"/><circle cx="1040.21" cy="1794.01" r="9.3"/><circle cx="1047.96" cy="1793.17" r="9.3"/><circle cx="1055.72" cy="1789.75" r="9.3"/><circle cx="1063.48" cy="1784.59" r="9.3"/><circle cx="1071.24" cy="1770.16" r="9.3"/><circle cx="1079.00" cy="1757.56" r="9.3"/><circle cx="1086.76" cy="1767.69" r="9.3"/><circle cx="1094.52" cy="1760.31" r="9.3"/><circle cx="1102.28" cy="1767.92" r="9.3"/><circle cx="1110.04" cy="1775.77" r="9.3"/><circle cx="1117.80" cy="1764.31" r="9.3"/><circle cx="1125.55" cy="1764.37" r="9.3"/><circle cx="1133.31" cy="1750.19" r="9.3"/><circle cx="1141.07" cy="1754.78" r="9.3"/><circle cx="1148.83" cy="1751.97" r="9.3"/><circle cx="1156.59" cy="1759.18" r="9.3"/><circle cx="1164.35" cy="1745.13" r="9.3"/><circle cx="1172.11" cy="1745.53" r="9.3"/><circle cx="1179.87" cy="1735.01" r="9.3"/><circle cx="1187.63" cy="1734.82" r="9.3"/><circle cx="1195.39" cy="1730.12" r="9.3"/><circle cx="1203.14" cy="1724.92" r="9.3"/><circle cx="1210.90" cy="1738.32" r="9.3"/><circle cx="1218.66" cy="1738.28" r="9.3"/><circle cx="1226.42" cy="1736.14" r="9.3"/><circle cx="1234.18" cy="1727.16" r="9.3"/><circle cx="1241.94" cy="1716.57" r="9.3"/><circle cx="1249.70" cy="1702.65" r="9.3"/><circle cx="1257.46" cy="1695.14" r="9.3"/><circle cx="1265.22" cy="1689.30" r="9.3"/><circle cx="1272.98" cy="1682.70" r="9.3"/><circle cx="1280.73" cy="1693.09" r="9.3"/><circle cx="1288.49" cy="1688.45" r="9.3"/><circle cx="1296.25" cy="1668.11" r="9.3"/><circle cx="1304.01" cy="1652.15" r="9.3"/><circle cx="1311.77" cy="1661.17" r="9.3"/><circle cx="1319.53" cy="1677.07" r="9.3"/><circle cx="1327.29" cy="1670.88" r="9.3"/><circle cx="1335.05" cy="1653.43" r="9.3"/><circle cx="1342.81" cy="1645.94" r="9.3"/><circle cx="1350.57" cy="1668.51" r="9.3"/><circle cx="1358.32" cy="1672.74" r="9.3"/><circle cx="1366.08" cy="1702.44" r="9.3"/><circle cx="1373.84" cy="1718.29" r="9.3"/><circle cx="1381.60" cy="1720.92" r="9.3"/><circle cx="1389.36" cy="1700.12" r="9.3"/><circle cx="1397.12" cy="1695.22" r="9.3"/><circle cx="1404.88" cy="1735.04" r="9.3"/><circle cx="1412.64" cy="1739.21" r="9.3"/><circle cx="1420.40" cy="1734.10" r="9.3"/><circle cx="1428.16" cy="1772.63" r="9.3"/><circle cx="1435.91" cy="1837.99" r="9.3"/><circle cx="1443.67" cy="1861.97" r="9.3"/><circle cx="1451.43" cy="1859.65" r="9.3"/><circle cx="1459.19" cy="1885.24" r="9.3"/><circle cx="1466.95" cy="1915.27" r="9.3"/><circle cx="1474.71" cy="1894.50" r="9.3"/><circle cx="1482.47" cy="1869.72" r="9.3"/><circle cx="1490.23" cy="1854.39" r="9.3"/><circle cx="1497.99" cy="1854.33" r="9.3"/><circle cx="1505.75" cy="1831.79" r="9.3"/><circle cx="1513.50" cy="1820.83" r="9.3"/><circle cx="1521.26" cy="1808.77" r="9.3"/><circle cx="1529.02" cy="1815.68" r="9.3"/><circle cx="1536.78" cy="1796.02" r="9.3"/><circle cx="1544.54" cy="1789.58" r="9.3"/><circle cx="1552.30" cy="1803.22" r="9.3"/><circle cx="1560.06" cy="1793.09" r="9.3"/><circle cx="1567.82" cy="1771.61" r="9.3"/><circle cx="1575.58" cy="1765.90" r="9.3"/><circle cx="1583.34" cy="1798.08" r="9.3"/><circle cx="1591.09" cy="1817.49" r="9.3"/><circle cx="1598.85" cy="1794.05" r="9.3"/><circle cx="1606.61" cy="1811.33" r="9.3"/><circle cx="1614.37" cy="1780.95" r="9.3"/><circle cx="1622.13" cy="1767.04" r="9.3"/><circle cx="1629.89" cy="1767.93" r="9.3"/><circle cx="1637.65" cy="1742.44" r="9.3"/><circle cx="1645.41" cy="1733.02" r="9.3"/><circle cx="1653.17" cy="1719.42" r="9.3"/><circle cx="1660.93" cy="1719.88" r="9.3"/><circle cx="1668.68" cy="1707.39" r="9.3"/><circle cx="1676.44" cy="1713.48" r="9.3"/><circle cx="1684.20" cy="1721.60" r="9.3"/><circle cx="1691.96" cy="1730.98" r="9.3"/><circle cx="1699.72" cy="1755.25" r="9.3"/><circle cx="1707.48" cy="1784.18" r="9.3"/><circle cx="1715.24" cy="1743.87" r="9.3"/><circle cx="1723.00" cy="1745.97" r="9.3"/><circle cx="1730.76" cy="1742.45" r="9.3"/><circle cx="1738.52" cy="1724.32" r="9.3"/><circle cx="1746.27" cy="1706.70" r="9.3"/><circle cx="1754.03" cy="1692.55" r="9.3"/><circle cx="1761.79" cy="1696.04" r="9.3"/><circle cx="1769.55" cy="1725.01" r="9.3"/><circle cx="1777.31" cy="1707.87" r="9.3"/><circle cx="1785.07" cy="1702.19" r="9.3"/><circle cx="1792.83" cy="1693.17" r="9.3"/><circle cx="1800.59" cy="1681.90" r="9.3"/><circle cx="1808.35" cy="1691.33" r="9.3"/><circle cx="1816.11" cy="1690.00" r="9.3"/><circle cx="1823.86" cy="1686.69" r="9.3"/><circle cx="1831.62" cy="1662.90" r="9.3"/><circle cx="1839.38" cy="1657.42" r="9.3"/><circle cx="1847.14" cy="1639.39" r="9.3"/><circle cx="1854.90" cy="1630.00" r="9.3"/><circle cx="1862.66" cy="1619.03" r="9.3"/><circle cx="1870.42" cy="1627.12" r="9.3"/><circle cx="1878.18" cy="1600.84" r="9.3"/><circle cx="1885.94" cy="1618.30" r="9.3"/><circle cx="1893.70" cy="1602.23" r="9.3"/><circle cx="1901.45" cy="1577.42" r="9.3"/><circle cx="1909.21" cy="1561.13" r="9.3"/><circle cx="1916.97" cy="1547.05" r="9.3"/><circle cx="1924.73" cy="1568.81" r="9.3"/><circle cx="1932.49" cy="1543.39" r="9.3"/><circle cx="1940.25" cy="1539.12" r="9.3"/><circle cx="1948.01" cy="1535.28" r="9.3"/><circle cx="1955.77" cy="1522.18" r="9.3"/><circle cx="1963.53" cy="1510.05" r="9.3"/><circle cx="1971.29" cy="1519.83" r="9.3"/><circle cx="1979.04" cy="1495.79" r="9.3"/><circle cx="1986.80" cy="1506.07" r="9.3"/><circle cx="1994.56" cy="1490.93" r="9.3"/><circle cx="2002.32" cy="1474.55" r="9.3"/><circle cx="2010.08" cy="1477.42" r="9.3"/><circle cx="2017.84" cy="1498.56" r="9.3"/><circle cx="2025.60" cy="1462.34" r="9.3"/><circle cx="2033.36" cy="1474.45" r="9.3"/><circle cx="2041.12" cy="1468.62" r="9.3"/><circle cx="2048.88" cy="1461.38" r="9.3"/><circle cx="2056.63" cy="1476.03" r="9.3"/><circle cx="2064.39" cy="1462.55" r="9.3"/><circle cx="2072.15" cy="1506.10" r="9.3"/><circle cx="2079.91" cy="1523.35" r="9.3"/><circle cx="2087.67" cy="1470.65" r="9.3"/><circle cx="2095.43" cy="1470.30" r="9.3"/><circle cx="2103.19" cy="1482.37" r="9.3"/><circle cx="2110.95" cy="1516.67" r="9.3"/><circle cx="2118.71" cy="1519.31" r="9.3"/><circle cx="2126.47" cy="1477.14" r="9.3"/><circle cx="2134.22" cy="1475.30" r="9.3"/><circle cx="2141.98" cy="1464.83" r="9.3"/><circle cx="2149.74" cy="1464.20" r="9.3"/><circle cx="2157.50" cy="1439.48" r="9.3"/><circle cx="2165.26" cy="1440.36" r="9.3"/><circle cx="2173.02" cy="1441.24" r="9.3"/><circle cx="2180.78" cy="1455.18" r="9.3"/><circle cx="2188.54" cy="1431.14" r="9.3"/><circle cx="2196.30" cy="1417.91" r="9.3"/><circle cx="2204.06" cy="1404.66" r="9.3"/><circle cx="2211.81" cy="1376.63" r="9.3"/><circle cx="2219.57" cy="1376.93" r="9.3"/><circle cx="2227.33" cy="1369.83" r="9.3"/><circle cx="2235.09" cy="1360.70" r="9.3"/><circle cx="2242.85" cy="1356.86" r="9.3"/><circle cx="2250.61" cy="1341.35" r="9.3"/><circle cx="2258.37" cy="1340.90" r="9.3"/><circle cx="2266.13" cy="1325.12" r="9.3"/><circle cx="2273.89" cy="1306.63" r="9.3"/><circle cx="2281.65" cy="1282.71" r="9.3"/><circle cx="2289.40" cy="1274.10" r="9.3"/><circle cx="2297.16" cy="1224.42" r="9.3"/><circle cx="2304.92" cy="1260.80" r="9.3"/><circle cx="2312.68" cy="1284.93" r="9.3"/><circle cx="2320.44" cy="1282.56" r="9.3"/><circle cx="2328.20" cy="1263.63" r="9.3"/><circle cx="2335.96" cy="1259.30" r="9.3"/><circle cx="2343.72" cy="1226.91" r="9.3"/><circle cx="2351.48" cy="1198.72" r="9.3"/><circle cx="2359.24" cy="1194.60" r="9.3"/><circle cx="2366.99" cy="1261.49" r="9.3"/><circle cx="2374.75" cy="1245.47" r="9.3"/><circle cx="2382.51" cy="1329.26" r="9.3"/><circle cx="2390.27" cy="1264.02" r="9.3"/><circle cx="2398.03" cy="1237.43" r="9.3"/><circle cx="2405.79" cy="1220.92" r="9.3"/><circle cx="2413.55" cy="1184.07" r="9.3"/><circle cx="2421.31" cy="1248.16" r="9.3"/><circle cx="2429.07" cy="1185.41" r="9.3"/><circle cx="2436.83" cy="1172.64" r="9.3"/><circle cx="2444.58" cy="1190.47" r="9.3"/><circle cx="2452.34" cy="1173.84" r="9.3"/><circle cx="2460.10" cy="1153.73" r="9.3"/><circle cx="2467.86" cy="1119.52" r="9.3"/><circle cx="2475.62" cy="1089.82" r="9.3"/><circle cx="2483.38" cy="1091.56" r="9.3"/><circle cx="2491.14" cy="1181.29" r="9.3"/><circle cx="2498.90" cy="1303.55" r="9.3"/><circle cx="2506.66" cy="1195.11" r="9.3"/><circle cx="2514.42" cy="1151.49" r="9.3"/><circle cx="2522.17" cy="1132.98" r="9.3"/><circle cx="2529.93" cy="1076.48" r="9.3"/><circle cx="2537.69" cy="1000.67" r="9.3"/><circle cx="2545.45" cy="1046.09" r="9.3"/><circle cx="2553.21" cy="1076.86" r="9.3"/><circle cx="2560.97" cy="960.55" r="9.3"/><circle cx="2568.73" cy="916.08" r="9.3"/><circle cx="2576.49" cy="929.92" r="9.3"/><circle cx="2584.25" cy="897.86" r="9.3"/><circle cx="2592.01" cy="844.37" r="9.3"/><circle cx="2599.76" cy="775.48" r="9.3"/><circle cx="2607.52" cy="767.89" r="9.3"/><circle cx="2615.28" cy="737.00" r="9.3"/><circle cx="2623.04" cy="704.67" r="9.3"/><circle cx="2630.80" cy="662.52" r="9.3"/><circle cx="2638.56" cy="733.68" r="9.3"/><circle cx="2646.32" cy="635.17" r="9.3"/><circle cx="2654.08" cy="647.86" r="9.3"/><circle cx="2661.84" cy="581.99" r="9.3"/><circle cx="2669.60" cy="664.88" r="9.3"/><circle cx="2677.35" cy="711.72" r="9.3"/><circle cx="2685.11" cy="659.97" r="9.3"/><circle cx="2692.87" cy="791.76" r="9.3"/><circle cx="2700.63" cy="791.69" r="9.3"/><circle cx="2708.39" cy="906.39" r="9.3"/><circle cx="2716.15" cy="792.31" r="9.3"/><circle cx="2723.91" cy="850.28" r="9.3"/><circle cx="2731.67" cy="972.46" r="9.3"/><circle cx="2739.43" cy="877.74" r="9.3"/><circle cx="2747.19" cy="808.90" r="9.3"/><circle cx="2754.94" cy="888.49" r="9.3"/><circle cx="2762.70" cy="810.06" r="9.3"/><circle cx="2770.46" cy="845.27" r="9.3"/><circle cx="2778.22" cy="799.25" r="9.3"/><circle cx="2785.98" cy="779.34" r="9.3"/><circle cx="2793.74" cy="775.92" r="9.3"/><circle cx="2801.50" cy="686.44" r="9.3"/><circle cx="2809.26" cy="640.60" r="9.3"/><circle cx="2817.02" cy="667.49" r="9.3"/><circle cx="2824.78" cy="740.13" r="9.3"/><circle cx="2832.53" cy="771.30" r="9.3"/><circle cx="2840.29" cy="647.60" r="9.3"/><circle cx="2848.05" cy="580.78" r="9.3"/><circle cx="2855.81" cy="555.70" r="9.3"/><circle cx="2863.57" cy="472.81" r="9.3"/><circle cx="2871.33" cy="420.52" r="9.3"/><circle cx="2879.09" cy="492.85" r="9.3"/><circle cx="2886.85" cy="412.86" r="9.3"/><circle cx="2894.61" cy="352.35" r="9.3"/></g></g>
<rect x="182" y="357" width="1475.5" height="264.5" fill="#F2F2F2" stroke="#000" stroke-width="3"/>
<text x="215" y="419.4" font-size="41.5" textLength="1344" lengthAdjust="spacingAndGlyphs"><tspan font-weight="bold">Credit Balance</tspan> is calculated as the sum of <tspan font-weight="bold">Free Credit Cash Accounts</tspan></text>
<text x="215" y="478.3" font-size="41.5" textLength="1194" lengthAdjust="spacingAndGlyphs">and <tspan font-weight="bold">Credit Balances in Margin Accounts</tspan> minus <tspan font-weight="bold">Margin Debt</tspan>.</text>
<text x="217.0" y="588.7" font-size="35" font-weight="normal" font-style="italic" fill="#000" text-anchor="start" textLength="1425.0" lengthAdjust="spacingAndGlyphs">As of December 2017, data is calculated using FINRA data, which includes NYSE firms.</text>
<rect x="1824" y="478" width="327" height="148" fill="#fff"/>
<text x="1838.0" y="537.5" font-size="50" font-weight="bold" font-style="italic" fill="#E8403A" text-anchor="start" textLength="299.0" lengthAdjust="spacingAndGlyphs">Current Level</text>
<text x="1888.0" y="605.0" font-size="50" font-weight="bold" font-style="italic" fill="#E8403A" text-anchor="start" textLength="200.0" lengthAdjust="spacingAndGlyphs">-$502.37</text>
<g filter="url(#csh)"><path d="M436.5,1267.5 L643.7,1267.5 L643.7,1337 L609.2,1337 L620.6,1391.7 L557.4,1337 L436.5,1337 Z" fill="#CFDDF0" stroke="#000" stroke-width="1.1" stroke-linejoin="miter"/></g>
<text x="454.0" y="1317.6" font-size="42" font-weight="bold" font-style="normal" fill="#000" text-anchor="start" textLength="172.0" lengthAdjust="spacingAndGlyphs">Feb 2000</text>
<g filter="url(#csh)"><path d="M1061.3,1365.4 L1286.7,1365.4 L1286.7,1435.4 L1249.3,1435.4 L1308.5,1515.9 L1192.8,1435.4 L1061.3,1435.4 Z" fill="#CFDDF0" stroke="#000" stroke-width="1.1" stroke-linejoin="miter"/></g>
<text x="1077.0" y="1415.9" font-size="42" font-weight="bold" font-style="normal" fill="#000" text-anchor="start" textLength="192.0" lengthAdjust="spacingAndGlyphs">June 2007</text>
<g filter="url(#csh)"><path d="M2187.4,803.7 L2410.8,803.7 L2410.8,872.5 L2373.3,872.5 L2324,943.4 L2317.9,872.5 L2187.4,872.5 Z" fill="#CFDDF0" stroke="#000" stroke-width="1.1" stroke-linejoin="miter"/></g>
<text x="2204.5" y="853.6" font-size="42" font-weight="bold" font-style="normal" fill="#000" text-anchor="start" textLength="187.0" lengthAdjust="spacingAndGlyphs">May 2018</text>
<g filter="url(#csh)"><path d="M2391.2,439.4 L2595.4,439.4 L2595.4,509.2 L2562.2,509.2 L2635,553.4 L2510,509.2 L2391.2,509.2 Z" fill="#CFDDF0" stroke="#000" stroke-width="1.1" stroke-linejoin="miter"/></g>
<text x="2408.5" y="490.3" font-size="42" font-weight="bold" font-style="normal" fill="#000" text-anchor="start" textLength="167.0" lengthAdjust="spacingAndGlyphs">Oct 2021</text>
<g filter="url(#glow)"><text x="586.0" y="1613.5" font-size="41" font-weight="bold" font-style="normal" fill="#45368F" text-anchor="start" textLength="179.0" lengthAdjust="spacingAndGlyphs">8/1/2000</text></g>
<g filter="url(#glow)"><text x="781.0" y="1962.2" font-size="41" font-weight="bold" font-style="normal" fill="#45368F" text-anchor="start" textLength="177.0" lengthAdjust="spacingAndGlyphs">9/1/2002</text></g>
<g filter="url(#glow)"><text x="1242.0" y="1603.9" font-size="41" font-weight="bold" font-style="normal" fill="#45368F" text-anchor="start" textLength="201.0" lengthAdjust="spacingAndGlyphs">10/1/2007</text></g>
<g filter="url(#glow)"><text x="1378.0" y="1988.6" font-size="41" font-weight="bold" font-style="normal" fill="#45368F" text-anchor="start" textLength="176.0" lengthAdjust="spacingAndGlyphs">2/1/2009</text></g>
<g filter="url(#glow)"><text x="2377.0" y="1047.7" font-size="41" font-weight="bold" font-style="normal" fill="#45368F" text-anchor="start" textLength="197.0" lengthAdjust="spacingAndGlyphs">12/1/2019</text></g>
<g filter="url(#glow)"><text x="2615.5" y="540.0" font-size="41" font-weight="bold" font-style="normal" fill="#45368F" text-anchor="start" textLength="200.0" lengthAdjust="spacingAndGlyphs">12/1/2021</text></g>
<text x="110.5" y="354.0" font-size="42" font-weight="bold" font-style="normal" fill="#FF0000" text-anchor="end">$600</text>
<text x="110.5" y="581.4" font-size="42" font-weight="bold" font-style="normal" fill="#FF0000" text-anchor="end">$500</text>
<text x="110.5" y="808.8" font-size="42" font-weight="bold" font-style="normal" fill="#FF0000" text-anchor="end">$400</text>
<text x="110.5" y="1036.2" font-size="42" font-weight="bold" font-style="normal" fill="#FF0000" text-anchor="end">$300</text>
<text x="110.5" y="1263.6" font-size="42" font-weight="bold" font-style="normal" fill="#FF0000" text-anchor="end">$200</text>
<text x="110.5" y="1491.0" font-size="42" font-weight="bold" font-style="normal" fill="#FF0000" text-anchor="end">$100</text>
<text x="110.5" y="1718.4" font-size="42" font-weight="bold" font-style="normal" fill="#1BA2A7" text-anchor="end">$0</text>
<text x="110.5" y="1945.8" font-size="42" font-weight="bold" font-style="normal" fill="#1BA2A7" text-anchor="end">$100</text>
<text x="110.5" y="2173.2" font-size="42" font-weight="bold" font-style="normal" fill="#1BA2A7" text-anchor="end">$200</text>
<text x="2995.0" y="353.8" font-size="42" font-weight="bold" font-style="normal" fill="#45368F" text-anchor="start">5500</text>
<text x="2995.0" y="519.2" font-size="42" font-weight="bold" font-style="normal" fill="#45368F" text-anchor="start">5000</text>
<text x="2995.0" y="684.5" font-size="42" font-weight="bold" font-style="normal" fill="#45368F" text-anchor="start">4500</text>
<text x="2995.0" y="849.9" font-size="42" font-weight="bold" font-style="normal" fill="#45368F" text-anchor="start">4000</text>
<text x="2995.0" y="1015.3" font-size="42" font-weight="bold" font-style="normal" fill="#45368F" text-anchor="start">3500</text>
<text x="2995.0" y="1180.7" font-size="42" font-weight="bold" font-style="normal" fill="#45368F" text-anchor="start">3000</text>
<text x="2995.0" y="1346.0" font-size="42" font-weight="bold" font-style="normal" fill="#45368F" text-anchor="start">2500</text>
<text x="2995.0" y="1511.4" font-size="42" font-weight="bold" font-style="normal" fill="#45368F" text-anchor="start">2000</text>
<text x="2995.0" y="1676.8" font-size="42" font-weight="bold" font-style="normal" fill="#45368F" text-anchor="start">1500</text>
<text x="2995.0" y="1842.2" font-size="42" font-weight="bold" font-style="normal" fill="#45368F" text-anchor="start">1000</text>
<text x="2995.0" y="2007.5" font-size="42" font-weight="bold" font-style="normal" fill="#45368F" text-anchor="start">500</text>
<text x="2995.0" y="2172.9" font-size="42" font-weight="bold" font-style="normal" fill="#45368F" text-anchor="start">0</text>
<text x="156.2" y="2231.6" font-size="42" font-weight="bold" font-style="normal" fill="#000" text-anchor="middle">1995</text>
<text x="621.5" y="2231.6" font-size="42" font-weight="bold" font-style="normal" fill="#000" text-anchor="middle">2000</text>
<text x="1086.9" y="2231.6" font-size="42" font-weight="bold" font-style="normal" fill="#000" text-anchor="middle">2005</text>
<text x="1552.2" y="2231.6" font-size="42" font-weight="bold" font-style="normal" fill="#000" text-anchor="middle">2010</text>
<text x="2017.5" y="2231.6" font-size="42" font-weight="bold" font-style="normal" fill="#000" text-anchor="middle">2015</text>
<text x="2482.8" y="2231.6" font-size="42" font-weight="bold" font-style="normal" fill="#000" text-anchor="middle">2020</text>
<text x="2948.2" y="2231.6" font-size="42" font-weight="bold" font-style="normal" fill="#000" text-anchor="middle">2025</text>
<rect x="635" y="221.4" width="89" height="30.4" fill="#5BBDC0" stroke="#1AA3A8" stroke-width="2.5"/>
<text x="733.0" y="251.9" font-size="49" font-weight="normal" font-style="normal" fill="#1BA2A7" text-anchor="start" textLength="594.0" lengthAdjust="spacingAndGlyphs">Positive Balance (Inverted)</text>
<rect x="1392" y="221.4" width="89" height="30.4" fill="#F4726D" stroke="#EE3F38" stroke-width="2.5"/>
<text x="1489.0" y="251.9" font-size="49" font-weight="normal" font-style="normal" fill="#EE3F38" text-anchor="start" textLength="623.0" lengthAdjust="spacingAndGlyphs">Negative Balance (Inverted)</text>
<line x1="2170" y1="236.5" x2="2262" y2="236.5" stroke="#45368F" stroke-width="5"/><circle cx="2216" cy="236.5" r="8.6" fill="#45368F"/>
<text x="2268.0" y="251.9" font-size="49" font-weight="normal" font-style="normal" fill="#45368F" text-anchor="start" textLength="188.0" lengthAdjust="spacingAndGlyphs">S&amp;P 500</text>
<text x="29.0" y="248.0" font-size="42.5" font-weight="bold" font-style="normal" fill="#000" text-anchor="start" textLength="149.0" lengthAdjust="spacingAndGlyphs">Billions</text>
<text x="735.0" y="140.4" font-size="80" font-weight="bold" font-style="normal" fill="#000" text-anchor="start" textLength="1626.0" lengthAdjust="spacingAndGlyphs">Investor Credit and the Market - INVERTED</text>
<text x="3087.0" y="60.6" font-size="45.8" font-weight="bold" font-style="normal" fill="#000" text-anchor="end" textLength="549.0" lengthAdjust="spacingAndGlyphs">advisorperspectives.com</text>
<text x="3084.0" y="113.3" font-size="44" font-weight="bold" font-style="normal" fill="#000" text-anchor="end" textLength="349.0" lengthAdjust="spacingAndGlyphs">As of June 2024</text>
<text x="229.0" y="72.3" font-size="33.5" font-weight="normal" font-style="normal" fill="#000" text-anchor="start" textLength="327.0" lengthAdjust="spacingAndGlyphs">Advisor Perspectives</text>
<polygon points="63.4,36.6 73.5,36.6 60.7,72.4 49.9,72.4" fill="#000"/>
<g stroke="#000" stroke-width="2"><line x1="38.6" y1="36.6" x2="51.6" y2="72"/><line x1="43.1" y1="36.6" x2="53.6" y2="65"/><line x1="47.3" y1="36.6" x2="55.4" y2="58.5"/></g>
<text x="69.5" y="72.3" font-weight="bold" fill="#000" textLength="127" lengthAdjust="spacingAndGlyphs"><tspan font-size="48">etta</tspan><tspan font-size="49.5">Fi</tspan></text>
<rect x="1.5" y="1.5" width="3117" height="2260" fill="none" stroke="#808080" stroke-width="3"/>
</svg></body></html>
